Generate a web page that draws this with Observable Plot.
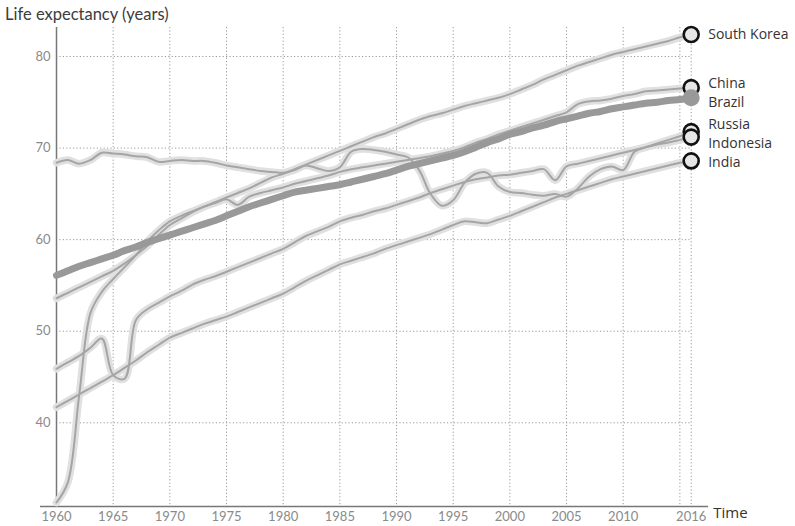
<!DOCTYPE html>
<html><head><meta charset="utf-8">
<script src="https://cdn.jsdelivr.net/npm/d3@7"></script>
<script src="https://cdn.jsdelivr.net/npm/@observablehq/plot@0.6"></script>
<style>
body{margin:0;background:#fff;}
#title{height:27px;font:16.5px Lato, sans-serif;color:#3c3c3c;padding-left:5px;line-height:28px;white-space:nowrap;}
</style></head><body>
<div id="title">Life expectancy (years)</div>
<div id="chart"></div>
<script>
const years = d3.range(1960, 2017);
const countries = ["South Korea", "China", "Russia", "Indonesia", "India", "Brazil"];
const highlight = "Brazil";

const southKorea = [53.6,54.2,54.8,55.4,56.0,56.6,57.4,58.3,59.3,60.5,61.6,62.3,63.0,63.6,64.1,64.6,65.1,65.6,66.2,66.8,67.2,67.7,68.2,68.7,69.2,69.7,70.2,70.7,71.2,71.6,72.1,72.6,73.1,73.5,73.8,74.2,74.6,74.9,75.2,75.5,75.9,76.4,76.9,77.5,78.0,78.5,79.0,79.4,79.8,80.2,80.5,80.8,81.1,81.4,81.7,82.1,82.4];
const china = [31.3,33.5,43.0,52.0,54.3,55.7,57.0,58.3,59.8,61.0,62.0,62.6,63.1,63.6,64.0,64.4,63.8,64.7,65.1,65.4,65.7,66.1,66.4,66.7,67.0,67.4,67.7,67.9,68.1,68.3,68.5,68.7,68.9,69.1,69.4,69.7,70.1,70.6,71.0,71.5,71.9,72.3,72.7,73.1,73.5,73.9,74.8,75.1,75.2,75.4,75.7,75.9,76.2,76.3,76.4,76.5,76.6];
const russia = [68.4,68.7,68.3,68.7,69.5,69.4,69.3,69.1,69.0,68.5,68.6,68.7,68.6,68.6,68.4,68.1,67.9,67.7,67.5,67.4,67.3,67.6,68.1,67.8,67.5,67.9,69.6,69.9,69.8,69.6,69.3,69.0,67.6,65.0,63.7,64.3,66.2,67.2,67.3,65.8,65.2,65.1,64.9,64.8,65.0,64.7,65.6,66.9,67.7,68.0,67.6,69.6,70.1,70.5,70.9,71.3,71.8];
const indonesia = [45.9,46.6,47.3,48.2,49.2,45.2,44.8,51.2,52.4,53.1,53.8,54.4,55.1,55.6,56.0,56.5,57.0,57.5,58.0,58.5,59.0,59.7,60.4,60.9,61.4,62.0,62.4,62.7,63.1,63.4,63.8,64.2,64.6,65.1,65.5,65.9,66.3,66.6,66.8,67.0,67.1,67.3,67.5,67.7,66.5,68.0,68.3,68.6,68.9,69.2,69.5,69.8,70.1,70.4,70.6,70.9,71.2];
const india = [41.7,42.4,43.1,43.8,44.5,45.2,46.0,46.8,47.7,48.5,49.3,49.8,50.3,50.8,51.2,51.6,52.1,52.6,53.1,53.6,54.1,54.8,55.5,56.1,56.7,57.3,57.7,58.1,58.5,59.0,59.4,59.8,60.2,60.6,61.1,61.6,62.0,61.9,61.8,62.2,62.6,63.1,63.6,64.1,64.6,65.0,65.4,65.8,66.2,66.6,66.9,67.2,67.5,67.8,68.1,68.4,68.6];
const brazil = [56.1,56.6,57.1,57.5,57.9,58.3,58.8,59.2,59.7,60.1,60.5,60.9,61.3,61.7,62.1,62.6,63.1,63.6,64.0,64.4,64.8,65.2,65.4,65.6,65.8,66.0,66.3,66.6,66.9,67.2,67.6,68.0,68.3,68.6,68.9,69.2,69.6,70.1,70.6,71.0,71.5,71.8,72.2,72.5,72.9,73.2,73.5,73.8,74.0,74.3,74.5,74.7,74.9,75.0,75.2,75.3,75.5];

const xTickValues = [1960,1965,1970,1975,1980,1985,1990,1995,2000,2005,2010,2016];
const xGridValues = [1965,1970,1975,1980,1985,1990,1995,2000,2005,2010,2015,2016];
const yTickValues = [40,50,60,70,80];
const yDomain = [30.86, 83.17];
const xDomain = [1960, 2016];
const xAxisExtent = [1958.59, 2017.53];

const seriesByCountry = {"South Korea": southKorea, "China": china, "Russia": russia, "Indonesia": indonesia, "India": india, "Brazil": brazil};
const rows = countries.flatMap(c => years.map((yr, i) => ({country: c, year: yr, value: seriesByCountry[c][i]})));
const others = rows.filter(d => d.country !== highlight);
const hi = rows.filter(d => d.country === highlight);
const last = countries.map(c => rows.filter(d => d.country === c).at(-1));

const opts = {
  width: 795, height: 499,
  marginLeft: 56, marginRight: 104.3, marginTop: 0, marginBottom: 20,
  x: {domain: xDomain},
  y: {domain: yDomain},
  style: {background: "white", overflow: "visible", fontFamily: "Lato, sans-serif"}
};

// dodge labels in pixel space
const base = Plot.plot({...opts, marks: [Plot.dot(last, {x: "year", y: "value"})]});
const ys = base.scale("y");
const gap = 19;
let items = last.map(d => ({d, py: ys.apply(d.value)})).sort((a, b) => a.py - b.py);
let groups = items.map(it => ({members: [it], center: it.py}));
let changed = true;
while (changed) {
  changed = false;
  for (let i = 0; i < groups.length - 1; i++) {
    const a = groups[i], b = groups[i + 1];
    const aBottom = a.center + (a.members.length - 1) * gap / 2;
    const bTop = b.center - (b.members.length - 1) * gap / 2;
    if (bTop - aBottom < gap) {
      const members = a.members.concat(b.members);
      const center = d3.mean(members, m => m.py);
      groups.splice(i, 2, {members, center});
      changed = true;
      break;
    }
  }
}
const labels = [];
for (const g of groups) {
  g.members.forEach((m, k) => {
    const py = g.center + (k - (g.members.length - 1) / 2) * gap;
    labels.push({country: m.d.country, year: m.d.year, labelValue: ys.invert(py)});
  });
}

const chart = Plot.plot({
  ...opts,
  marks: [
    Plot.gridX(xGridValues, {stroke: "#9a9a9a", strokeOpacity: 1, strokeDasharray: "1.2,2.2"}),
    Plot.gridY(yTickValues, {stroke: "#9a9a9a", strokeOpacity: 1, strokeDasharray: "1.2,2.2"}),
    Plot.axisX({ticks: xTickValues, tickSize: 0, tickPadding: 5, tickFormat: d => String(d), label: null, fontSize: 13, color: "#8a8a8a"}),
    Plot.axisY({ticks: yTickValues, tickSize: 0, tickPadding: 6, label: null, fontSize: 13, color: "#8a8a8a"}),
    Plot.ruleX([xDomain[0]], {stroke: "#777", strokeWidth: 1.5}),
    Plot.ruleY([yDomain[0]], {x1: xAxisExtent[0], x2: xAxisExtent[1], stroke: "#777", strokeWidth: 1.5}),
    Plot.line(others, {x: "year", y: "value", z: "country", stroke: "#e0e0e0", strokeWidth: 7.5, curve: "catmull-rom"}),
    Plot.line(others, {x: "year", y: "value", z: "country", stroke: "#a5a5a5", strokeWidth: 2, curve: "catmull-rom"}),
    Plot.line(hi, {x: "year", y: "value", stroke: "#999", strokeWidth: 7, curve: "catmull-rom"}),
    Plot.dot(last.filter(d => d.country !== highlight), {x: "year", y: "value", r: 7.5, fill: "#e6e6e6", stroke: "#111", strokeWidth: 2.6}),
    Plot.dot(last.filter(d => d.country === highlight), {x: "year", y: "value", r: 8.5, fill: "#999"}),
    Plot.text(labels, {x: "year", y: "labelValue", text: "country", dx: 17, textAnchor: "start", fontSize: 14, fill: "#333", fontFamily: "'Open Sans', sans-serif"}),
    Plot.text(["Time"], {frameAnchor: "bottom-right", dx: 22, dy: 11, textAnchor: "start", fontSize: 15, fill: "#333", fontFamily: "'Open Sans', sans-serif"})
  ]
});
document.getElementById("chart").appendChild(chart);
</script>
</body></html>
